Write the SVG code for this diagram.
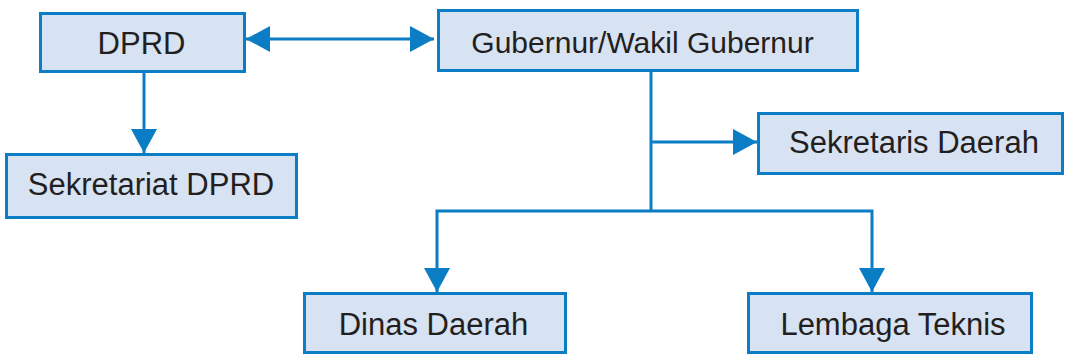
<svg xmlns="http://www.w3.org/2000/svg" width="1065" height="355" viewBox="0 0 1065 355">
<style>
.box{fill:#d7e2f3;stroke:#0b7dc5;stroke-width:3}
.lbl{font-family:"Liberation Sans",Arial,Helvetica,sans-serif;font-size:31px;fill:#231f20;text-anchor:middle}
.con{fill:none;stroke:#0b7dc5;stroke-width:3}
</style>
<defs>
<marker id="ah" markerUnits="userSpaceOnUse" markerWidth="24" markerHeight="26" viewBox="0 0 24 26" refX="24" refY="13" orient="auto-start-reverse">
<path d="M0,0 L24,13 L0,26 z" fill="#0b7dc5"/>
</marker>
</defs>
<rect width="1065" height="355" fill="#ffffff"/>
<g id="connectors">
<line class="con" x1="246" y1="39" x2="434" y2="39" marker-start="url(#ah)" marker-end="url(#ah)"/>
<line class="con" x1="144" y1="73" x2="144" y2="153" marker-end="url(#ah)"/>
<line class="con" x1="651" y1="71" x2="651" y2="211"/>
<line class="con" x1="651" y1="142" x2="757" y2="142" marker-end="url(#ah)"/>
<path class="con" d="M651,211 H437 V292" marker-end="url(#ah)"/>
<path class="con" d="M651,211 H872 V292" marker-end="url(#ah)"/>
</g>
<g id="dprd">
<rect class="box" x="40.5" y="13.5" width="204" height="58"/>
<text class="lbl" x="141.5" y="54">DPRD</text>
</g>
<g id="gubernur">
<rect class="box" x="438.5" y="10.5" width="419" height="60"/>
<text class="lbl" x="642.5" y="53" style="font-size:30px">Gubernur/Wakil Gubernur</text>
</g>
<g id="sekretariat-dprd">
<rect class="box" x="6.5" y="154.5" width="290" height="63"/>
<text class="lbl" x="151" y="195">Sekretariat DPRD</text>
</g>
<g id="sekretaris-daerah">
<rect class="box" x="758.5" y="113.5" width="304" height="60"/>
<text class="lbl" x="914" y="153">Sekretaris Daerah</text>
</g>
<g id="dinas-daerah">
<rect class="box" x="304.5" y="293.5" width="261" height="59"/>
<text class="lbl" x="433.5" y="335">Dinas Daerah</text>
</g>
<g id="lembaga-teknis">
<rect class="box" x="748.5" y="293.5" width="283" height="59"/>
<text class="lbl" x="893" y="335">Lembaga Teknis</text>
</g>
</svg>
